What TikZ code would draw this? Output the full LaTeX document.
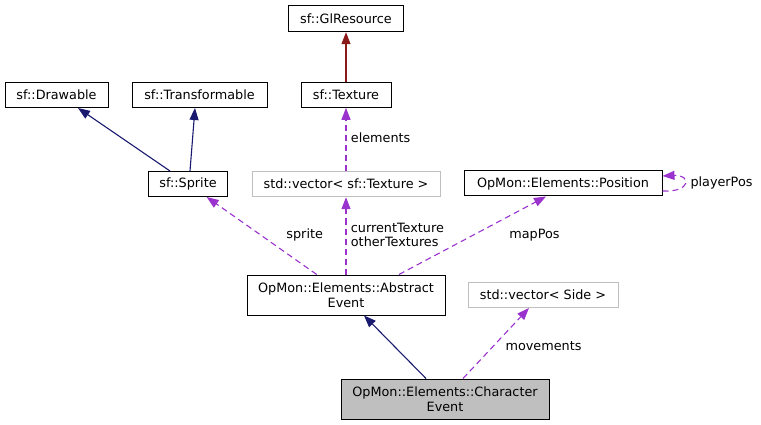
\documentclass[tikz,border=0pt]{standalone}
\usepackage{fontspec}
\setmainfont{DejaVu Sans}
\usetikzlibrary{arrows.meta}
\definecolor{mblue}{RGB}{25,25,112}
\definecolor{orchid}{RGB}{154,50,205}
\definecolor{fbrick}{RGB}{139,26,26}
\definecolor{grey75}{RGB}{191,191,191}
\begin{document}
\begin{tikzpicture}[x=1pt,y=-1pt,
  txt/.style={font=\fontsize{12.8}{14.5}\selectfont},
  box/.style={txt, draw=black, line width=1pt, inner sep=0pt, minimum height=25pt, align=center},
  vbox/.style={box, draw=grey75},
  lbl/.style={txt, inner sep=0pt, align=left},
  tip/.style={-{Triangle[length=12pt,width=9pt]}},
  inherit/.style={tip, draw=mblue, line width=1.1pt},
  protinherit/.style={tip, draw=fbrick, line width=1.1pt},
  usage/.style={tip, draw=orchid, line width=1.1pt, dash pattern=on 6pt off 4pt}
]
\useasboundingbox (0,0) rectangle (761,425);

% nodes
\node[box, minimum width=115pt, minimum height=26pt] (glres) at (346,18.7) {sf::GlResource};
\node[box, minimum width=103pt] (drawable) at (56.5,95) {sf::Drawable};
\node[box, minimum width=135pt] (transf) at (199.5,95) {sf::Transformable};
\node[box, minimum width=90pt] (texture) at (346,94.8) {sf::Texture};
\node[box, minimum width=79pt] (sprite) at (188,184) {sf::Sprite};
\node[vbox, minimum width=188pt] (vtex) at (346,184.2) {std::vector\textless{} sf::Texture \textgreater{}};
\node[box, minimum width=198pt] (position) at (563,183.5) {OpMon::Elements::Position};
\node[box, minimum width=198pt, minimum height=40pt] (abstract) at (346,295) {OpMon::Elements::Abstract\\Event};
\node[vbox, minimum width=150pt] (vside) at (543,295) {std::vector\textless{} Side \textgreater{}};
\node[box, fill=grey75, minimum width=208pt, minimum height=40pt] (character) at (445,399) {OpMon::Elements::Character\\Event};

% inheritance
\draw[protinherit] (texture.north) -- (texture.north |- glres.south);
\draw[inherit] ([xshift=-18pt]sprite.north) -- ([xshift=21.5pt]drawable.south);
\draw[inherit] ([xshift=2pt]sprite.north) -- ([xshift=-4.5pt]transf.south);
\draw[inherit] ([xshift=-19pt]character.north) -- ([xshift=18pt]abstract.south);

% usage
\draw[usage] (texture.south |- vtex.north) -- (texture.south);
\draw[usage] ([xshift=-29.3pt]abstract.north) -- ([xshift=18.7pt]sprite.south);
\draw[usage] (abstract.north) -- (abstract.north |- vtex.south);
\draw[usage] ([xshift=53pt]abstract.north) -- ([xshift=-17pt]position.south);
\draw[usage] ([xshift=18pt]character.north) -- ([xshift=-14pt]vside.south);
\draw[usage] ([yshift=-7.5pt]position.east) .. controls ([xshift=29pt,yshift=-9pt]position.east) and ([xshift=29pt,yshift=9pt]position.east) .. ([yshift=7.5pt]position.east);

% labels
\node[lbl, anchor=west] (lelements) at (350.7,137.7) {elements};
\node[lbl] (lsprite) at (304.7,235) {sprite};
\node[lbl, anchor=west] (lcur) at (350.7,234.7) {currentTexture\\otherTextures};
\node[lbl] (lmap) at (534.5,235) {mapPos};
\node[lbl] (lplayer) at (721.5,182.7) {playerPos};
\node[lbl] (lmove) at (543.5,345.7) {movements};
\end{tikzpicture}
\end{document}
